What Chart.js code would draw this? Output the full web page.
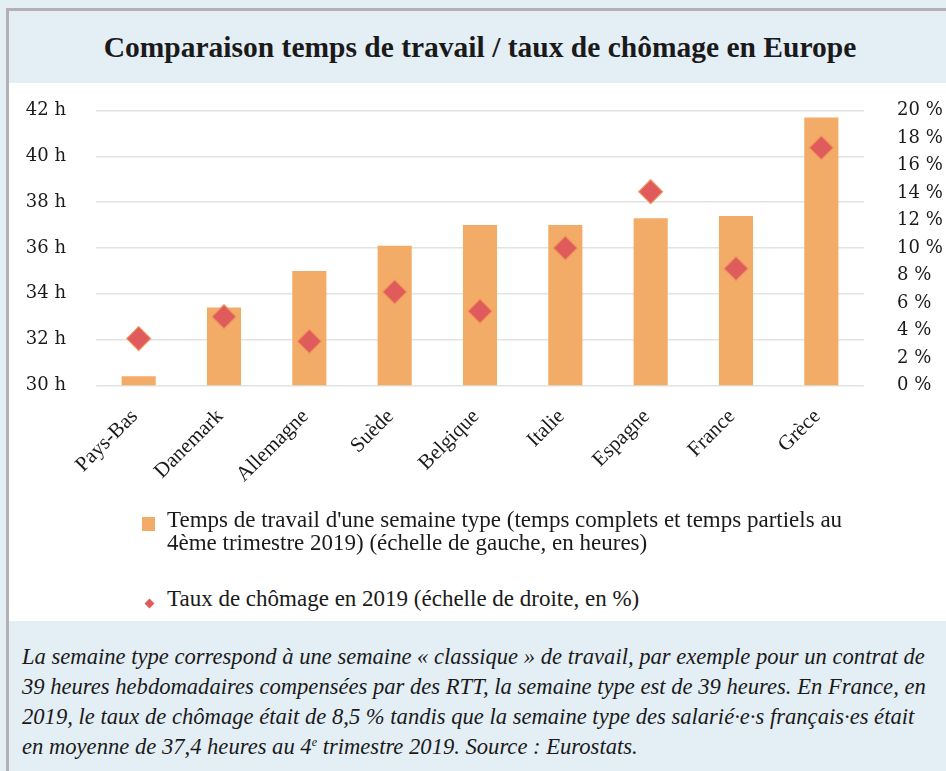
<!DOCTYPE html>
<html>
<head>
<meta charset="utf-8">
<script src="https://cdn.jsdelivr.net/npm/chart.js@4.4.1/dist/chart.umd.min.js"></script>
<style>
  html, body { margin:0; padding:0; }
  body { width:946px; height:771px; background:#e4eef5; position:relative; overflow:hidden; }
  #topline { position:absolute; left:6px; top:8px; width:940px; height:3px; background:#b4b0b8; }
  #leftline { position:absolute; left:6px; top:8px; width:3px; height:763px; background:#b4b0b8; }
  #title { position:absolute; left:9px; top:11px; width:942px; height:72px; display:flex; align-items:center; justify-content:center;
           font-family:"Liberation Serif", serif; font-weight:bold; font-size:29.5px; color:#1a1a1a; }
  #panel { position:absolute; left:9px; top:83px; width:937px; height:538px; background:#ffffff; }
  #wrap { position:absolute; left:0; top:83px; width:946px; height:430px; }
  .leg { position:absolute; font-family:"Liberation Serif", serif; font-size:23px; color:#1a1a1a; line-height:23px; white-space:nowrap; }
  #sq { position:absolute; left:142px; top:517px; width:13px; height:14px; background:#f3ab68; }
  #dm { position:absolute; left:146px; top:600px; width:7px; height:7px; background:#e05c5c; transform:rotate(45deg); }
  #caption { position:absolute; left:22px; top:642px; font-family:"Liberation Serif", serif; font-style:italic; font-size:22.6px;
             line-height:30px; color:#1a1a1a; white-space:nowrap; }
  sup { font-size:12px; line-height:0; vertical-align:8px; }
</style>
</head>
<body>
<div id="topline"></div>
<div id="leftline"></div>
<div id="title">Comparaison temps de travail / taux de chômage en Europe</div>
<div id="panel"></div>
<div id="wrap"><canvas id="c" width="946" height="430"></canvas></div>
<div id="sq"></div>
<div class="leg" style="left:167px; top:508px;">Temps de travail d'une semaine type (temps complets et temps partiels au<br>4ème trimestre 2019) (échelle de gauche, en heures)</div>
<div id="dm"></div>
<div class="leg" style="left:167px; top:587px;">Taux de chômage en 2019 (échelle de droite, en %)</div>
<div id="caption">La semaine type correspond à une semaine « classique » de travail, par exemple pour un contrat de<br>39 heures hebdomadaires compensées par des RTT, la semaine type est de 39 heures. En France, en<br>2019, le taux de chômage était de 8,5 % tandis que la semaine type des salarié·e·s français·es était<br>en moyenne de 37,4 heures au 4<sup>e</sup> trimestre 2019. Source : Eurostats.</div>

<script>
const countries = ["Pays-Bas","Danemark","Allemagne","Suède","Belgique","Italie","Espagne","France","Grèce"];
const weeklyHours = [30.4, 33.4, 35.0, 36.1, 37.0, 37.0, 37.3, 37.4, 41.7];
const unemploymentRate = [3.4, 5.0, 3.2, 6.8, 5.4, 10.0, 14.1, 8.5, 17.3];
const hoursTicks = [30, 32, 34, 36, 38, 40, 42];
const rateTicks = [0, 2, 4, 6, 8, 10, 12, 14, 16, 18, 20];

new Chart(document.getElementById('c'), {
  data: {
    labels: countries,
    datasets: [
      {
        type: 'line',
        label: 'Taux de chômage en 2019 (échelle de droite, en %)',
        data: unemploymentRate,
        yAxisID: 'yR',
        showLine: false,
        pointStyle: 'rectRot',
        pointRadius: 12,
        pointBackgroundColor: '#e05c5c',
        pointBorderColor: 'rgba(240,150,90,0.9)',
        pointBorderWidth: 1.2,
        order: 0
      },
      {
        type: 'bar',
        label: "Temps de travail d'une semaine type",
        data: weeklyHours,
        yAxisID: 'yL',
        backgroundColor: '#f3ab68',
        categoryPercentage: 0.8,
        barPercentage: 0.5,
        order: 1
      }
    ]
  },
  options: {
    responsive: false,
    animation: false,
    layout: { autoPadding: false, padding: { top: 27.7, left: 0, right: 0, bottom: 0 } },
    plugins: { legend: { display: false }, title: { display: false }, tooltip: { enabled: false } },
    scales: {
      x: {
        grid: { display: false },
        border: { display: false },
        ticks: {
          minRotation: 45, maxRotation: 45, autoSkip: false, padding: 11, labelOffset: -4,
          color: '#1a1a1a', font: { family: 'Liberation Serif', size: 21 }
        },
        afterFit: s => { s.height = 127.7; }
      },
      yL: {
        position: 'left',
        min: hoursTicks[0], max: hoursTicks[hoursTicks.length - 1],
        afterBuildTicks: s => { s.ticks = hoursTicks.map(v => ({ value: v })); },
        grid: { color: '#e2e2e2', lineWidth: 1.5, drawTicks: true, tickLength: 30, tickColor: 'rgba(0,0,0,0)' },
        border: { display: false },
        ticks: { padding: 0, color: '#1a1a1a', font: { family: 'DejaVu Serif', size: 18 }, callback: v => v + ' h' },
        afterFit: s => { s.width = 96; }
      },
      yR: {
        position: 'right',
        min: rateTicks[0], max: rateTicks[rateTicks.length - 1],
        afterBuildTicks: s => { s.ticks = rateTicks.map(v => ({ value: v })); },
        grid: { display: false, drawTicks: true, tickLength: 33 },
        border: { display: false },
        ticks: { padding: 0, color: '#1a1a1a', font: { family: 'DejaVu Serif', size: 18 }, callback: v => v + ' %' },
        afterFit: s => { s.width = 82; }
      }
    }
  }
});
</script>
</body>
</html>
